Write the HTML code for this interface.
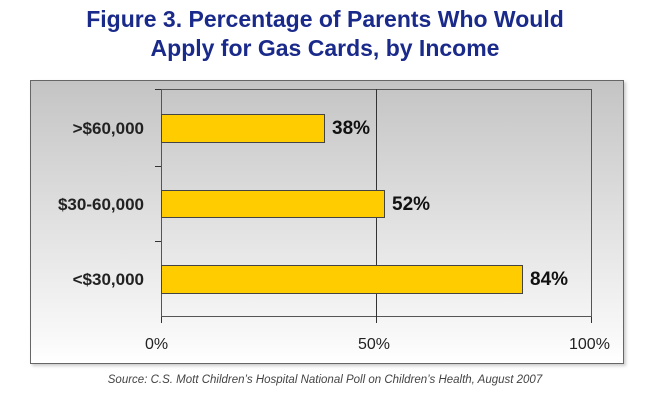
<!DOCTYPE html>
<html><head><style>
body{margin:0;width:650px;height:408px;background:#fff;font-family:"Liberation Sans",Arial,sans-serif;position:relative;overflow:hidden}
.t{position:absolute;left:0;width:650px;text-align:center;color:#1a2a8a;font-weight:bold;font-size:23px}
.box{position:absolute;left:30px;top:80px;width:592px;height:282px;border:1px solid #666;background:linear-gradient(#c4c4c4,#f8f8f8 90%,#fff);box-shadow:2px 2px 3px #ccc}
.pl{position:absolute;left:161px;top:89px;width:431px;height:228px;border:1px solid #555;box-sizing:border-box}
.bar{position:absolute;left:161px;background:#ffcc00;border:1px solid #444;box-sizing:border-box}
.lab{position:absolute;right:506px;font-weight:bold;font-size:17px;color:#222}
.v{position:absolute;font-weight:bold;font-size:19px;color:#111}
.x{position:absolute;top:336px;font-size:16px;color:#222}
.tk{position:absolute;background:#333}
</style></head><body>
<div class="t" style="top:6px">Figure 3. Percentage of Parents Who Would</div>
<div class="t" style="top:35px">Apply for Gas Cards, by Income</div>
<div class="box"></div>
<div class="pl"></div>
<div class="tk" style="left:155px;top:89px;width:6px;height:1px"></div>
<div class="tk" style="left:155px;top:166px;width:6px;height:1px"></div>
<div class="tk" style="left:155px;top:241px;width:6px;height:1px"></div>
<div class="tk" style="left:376px;top:89px;width:1px;height:234px"></div>
<div class="tk" style="left:591px;top:317px;width:1px;height:6px"></div>
<div class="tk" style="left:161px;top:317px;width:1px;height:6px"></div>
<div class="bar" style="top:114px;width:164px;height:29px"></div>
<div class="bar" style="top:190px;width:224px;height:28px"></div>
<div class="bar" style="top:265px;width:362px;height:29px"></div>
<div class="lab" style="top:119px">&gt;$60,000</div>
<div class="lab" style="top:195px">$30-60,000</div>
<div class="lab" style="top:270px">&lt;$30,000</div>
<div class="v" style="left:332px;top:118px">38%</div>
<div class="v" style="left:392px;top:194px">52%</div>
<div class="v" style="left:530px;top:269px">84%</div>
<div class="x" style="left:145px">0%</div>
<div class="x" style="left:358px">50%</div>
<div class="x" style="left:569px">100%</div>
<div style="position:absolute;top:374px;left:0;width:650px;text-align:center;font-size:11.5px;font-style:italic;color:#444">Source: C.S. Mott Children’s Hospital National Poll on Children’s Health, August 2007</div>
</body></html>
